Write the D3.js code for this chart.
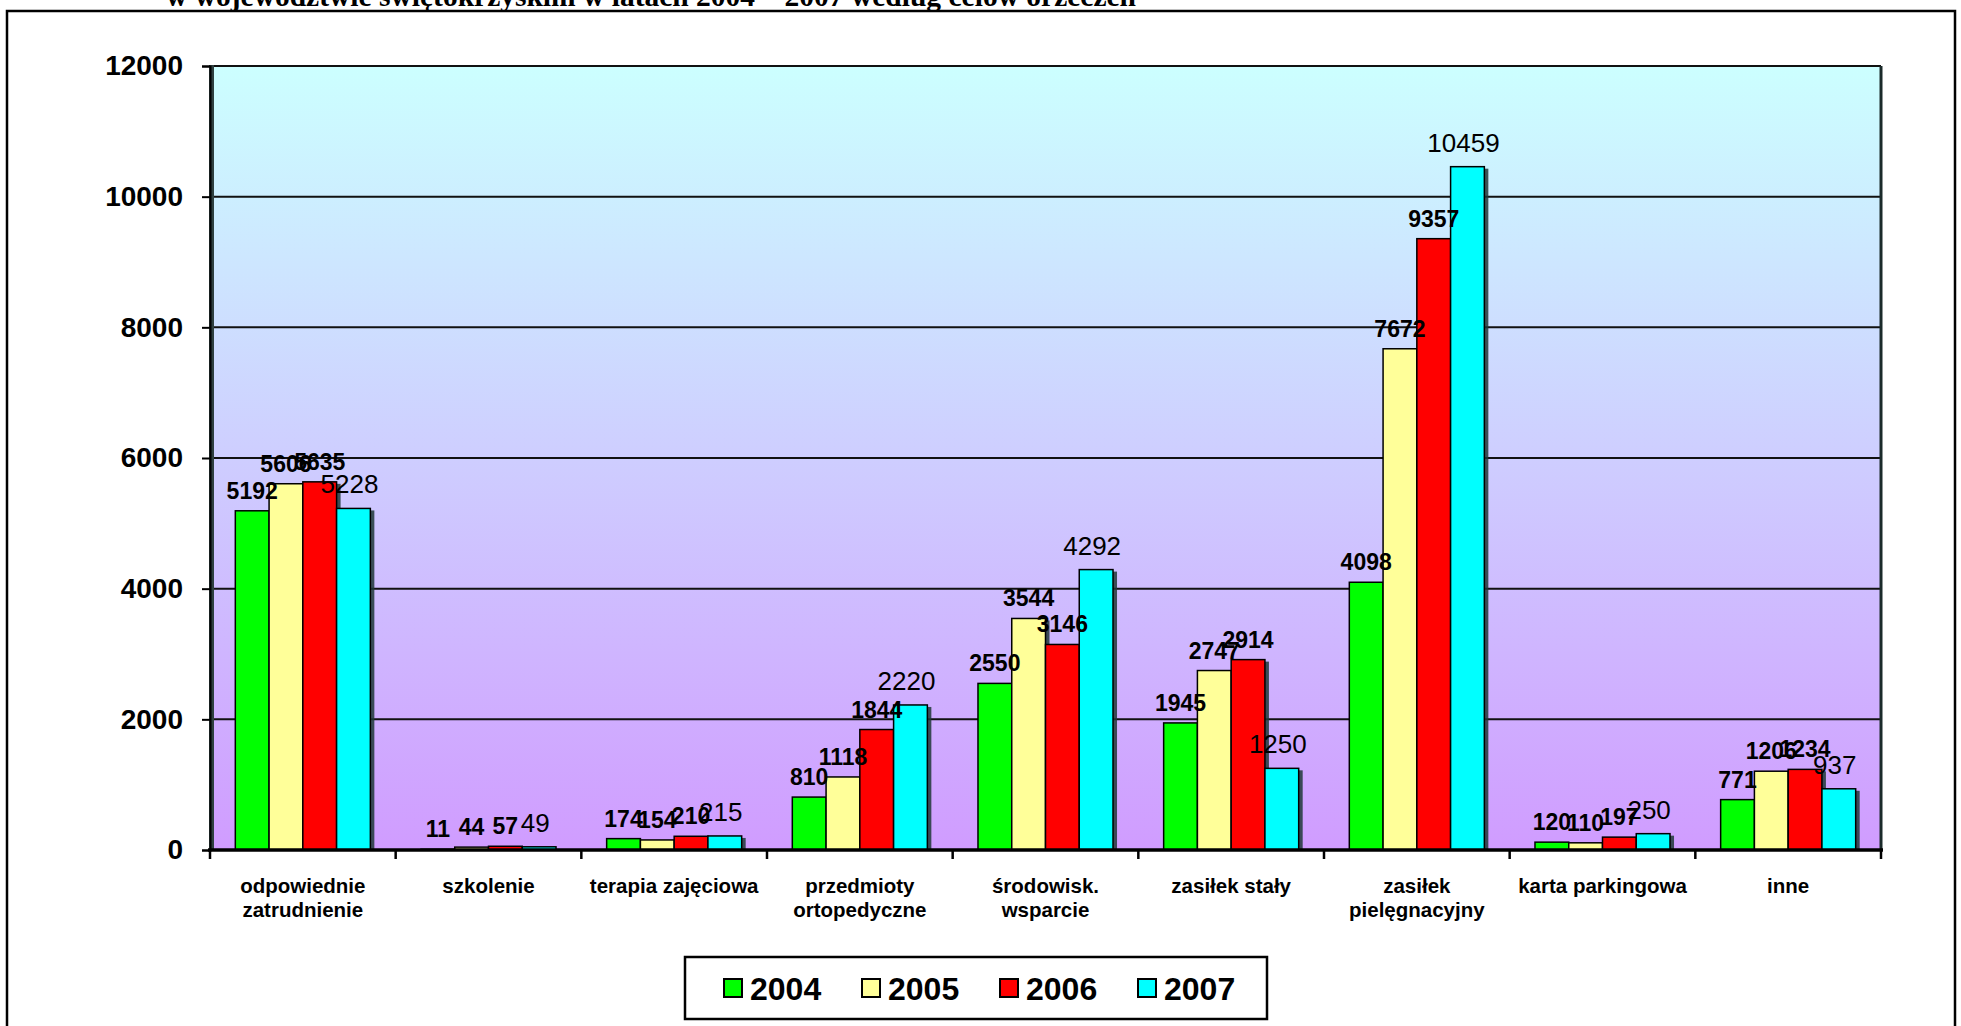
<!DOCTYPE html>
<html>
<head>
<meta charset="utf-8">
<script src="https://cdn.jsdelivr.net/npm/d3@7"></script>
<style>
  html, body { margin: 0; padding: 0; background: #ffffff; }
  svg { display: block; font-family: "Liberation Sans", Arial, sans-serif; }
</style>
</head>
<body>
<svg id="chart" width="1961" height="1026"></svg>
<script>
// ---- data ----
const categories = [
  "odpowiednie zatrudnienie", "szkolenie", "terapia zajęciowa",
  "przedmioty ortopedyczne", "środowisk. wsparcie", "zasiłek stały",
  "zasiłek pielęgnacyjny", "karta parkingowa", "inne"
];
const categoryLines = [
  ["odpowiednie", "zatrudnienie"], ["szkolenie"], ["terapia zajęciowa"],
  ["przedmioty", "ortopedyczne"], ["środowisk.", "wsparcie"], ["zasiłek stały"],
  ["zasiłek", "pielęgnacyjny"], ["karta parkingowa"], ["inne"]
];
const years = ["2004", "2005", "2006", "2007"];
const values2004 = [5192, 11, 174, 810, 2550, 1945, 4098, 120, 771];
const values2005 = [5606, 44, 154, 1118, 3544, 2747, 7672, 110, 1206];
const values2006 = [5635, 57, 210, 1844, 3146, 2914, 9357, 197, 1234];
const values2007 = [5228, 49, 215, 2220, 4292, 1250, 10459, 250, 937];
const yTicks = [0, 2000, 4000, 6000, 8000, 10000, 12000];
const titleText = "w województwie świętokrzyskim w latach 2004 – 2007 według celów orzeczeń";

const seriesValues = [values2004, values2005, values2006, values2007];
const colors = ["#00ff00", "#ffff99", "#ff0000", "#00ffff"];

// ---- layout ----
const svg = d3.select("#chart");
const plot = { left: 210, right: 1881, top: 66, bottom: 850 };

const x = d3.scaleBand().domain(categories).range([plot.left, plot.right]).paddingInner(0).paddingOuter(0);
const x1 = d3.scaleBand().domain(years).range([0, x.bandwidth()]).paddingInner(0).paddingOuter(0.75);
const y = d3.scaleLinear().domain([0, 12000]).range([plot.bottom, plot.top]);

// outer chart border
svg.append("rect").attr("x", 7).attr("y", 11).attr("width", 1948).attr("height", 1030)
  .attr("fill", "#ffffff").attr("stroke", "#000").attr("stroke-width", 2.5);

// title (partly cut off at top)
svg.append("text").attr("x", 166).attr("y", 6)
  .attr("font-family", "'Liberation Serif', 'Times New Roman', serif")
  .attr("font-weight", "bold").attr("font-size", 29.5).attr("fill", "#000")
  .text(titleText);

// plot background gradient
const defs = svg.append("defs");
const grad = defs.append("linearGradient").attr("id", "bg").attr("x1", 0).attr("y1", 0).attr("x2", 0).attr("y2", 1);
grad.append("stop").attr("offset", "0%").attr("stop-color", "#ccffff");
grad.append("stop").attr("offset", "100%").attr("stop-color", "#d09cff");

svg.append("rect").attr("x", plot.left).attr("y", plot.top)
  .attr("width", plot.right - plot.left).attr("height", plot.bottom - plot.top)
  .attr("fill", "url(#bg)");

// gridlines
svg.append("g").selectAll("line").data(yTicks.filter(d => d > 0)).join("line")
  .attr("x1", plot.left).attr("x2", plot.right)
  .attr("y1", d => y(d)).attr("y2", d => y(d))
  .attr("stroke", "#111").attr("stroke-width", 2);

// right plot border
svg.append("line").attr("x1", plot.right).attr("x2", plot.right)
  .attr("y1", plot.top).attr("y2", plot.bottom)
  .attr("stroke", "#1a2a2a").attr("stroke-width", 3);

// bars
const groups = svg.append("g").selectAll("g").data(categories).join("g")
  .attr("transform", d => `translate(${x(d)},0)`);

years.forEach((yr, si) => {
  const vals = seriesValues[si];
  groups.append("rect")
    .attr("x", (d, i) => x1(yr) + 4)
    .attr("y", (d, i) => y(vals[i]) + 2)
    .attr("width", x1.bandwidth())
    .attr("height", (d, i) => Math.max(0, plot.bottom - y(vals[i]) - 2))
    .attr("fill", "#203838").attr("opacity", 0.85);
});
years.forEach((yr, si) => {
  const vals = seriesValues[si];
  groups.append("rect")
    .attr("x", (d, i) => x1(yr))
    .attr("y", (d, i) => y(vals[i]))
    .attr("width", x1.bandwidth())
    .attr("height", (d, i) => plot.bottom - y(vals[i]))
    .attr("fill", colors[si]).attr("stroke", "#000").attr("stroke-width", 1.5);
});

// left axis wall
svg.append("rect").attr("x", plot.left - 1).attr("y", plot.top - 1)
  .attr("width", 5).attr("height", plot.bottom - plot.top + 1)
  .attr("fill", "#2f3f3f");

// y axis
const yAxis = svg.append("g").attr("transform", `translate(${plot.left},0)`)
  .call(d3.axisLeft(y).tickValues(yTicks).tickSize(8).tickPadding(19).tickFormat(d3.format("d")));
yAxis.select(".domain").attr("stroke", "#000").attr("stroke-width", 2);
yAxis.selectAll(".tick line").attr("stroke", "#000").attr("stroke-width", 2);
yAxis.selectAll(".tick text").attr("font-family", "'Liberation Sans', Arial, sans-serif")
  .attr("font-size", 28).attr("font-weight", "bold").attr("fill", "#000");

// x axis (labels at band centres, ticks at band boundaries)
const xAxis = svg.append("g").attr("transform", `translate(0,${plot.bottom})`)
  .call(d3.axisBottom(x).tickSize(0).tickPadding(0));
xAxis.select(".domain").remove();
xAxis.selectAll(".tick text").each(function(d, i) {
  const t = d3.select(this);
  t.text(null).attr("y", 0).attr("dy", null)
    .attr("font-family", "'Liberation Sans', Arial, sans-serif")
    .attr("font-size", 20.5).attr("font-weight", "bold").attr("fill", "#000");
  categoryLines[i].forEach((ln, k) => {
    t.append("tspan").attr("x", 0).attr("y", 43 + k * 24).text(ln);
  });
});
const boundaries = categories.map(c => x(c)).concat([plot.right]);
svg.append("g").selectAll("line").data(boundaries).join("line")
  .attr("x1", d => d).attr("x2", d => d)
  .attr("y1", plot.bottom).attr("y2", plot.bottom + 9)
  .attr("stroke", "#000").attr("stroke-width", 2.5);
svg.append("line").attr("x1", plot.left - 2).attr("x2", plot.right + 2)
  .attr("y1", plot.bottom).attr("y2", plot.bottom)
  .attr("stroke", "#000").attr("stroke-width", 3.5);

// data labels
years.forEach((yr, si) => {
  const vals = seriesValues[si];
  const last = si === 3;
  groups.append("text")
    .attr("x", (d, i) => x1(yr) + x1.bandwidth() / 2 - (last ? 4 : 0))
    .attr("y", (d, i) => y(vals[i]) - (last ? 15 : 12))
    .attr("text-anchor", "middle")
    .attr("font-family", "'Liberation Sans', Arial, sans-serif")
    .attr("font-size", last ? 26 : 23)
    .attr("font-weight", last ? "normal" : "bold")
    .attr("fill", "#000")
    .text((d, i) => vals[i]);
});

// legend
const legend = svg.append("g");
legend.append("rect").attr("x", 685).attr("y", 957).attr("width", 582).attr("height", 62)
  .attr("fill", "#fff").attr("stroke", "#000").attr("stroke-width", 2.5);
const legX = d3.scalePoint().domain(years).range([724, 1138]);
const li = legend.selectAll("g.item").data(years).join("g").attr("class", "item")
  .attr("transform", d => `translate(${legX(d)},979)`);
li.append("rect").attr("width", 18).attr("height", 18)
  .attr("fill", (d, i) => colors[i]).attr("stroke", "#000").attr("stroke-width", 2);
li.append("text").attr("x", 26).attr("y", 21)
  .attr("font-family", "'Liberation Sans', Arial, sans-serif")
  .attr("font-size", 32).attr("font-weight", "bold").attr("fill", "#000")
  .text(d => d);
</script>
</body>
</html>
